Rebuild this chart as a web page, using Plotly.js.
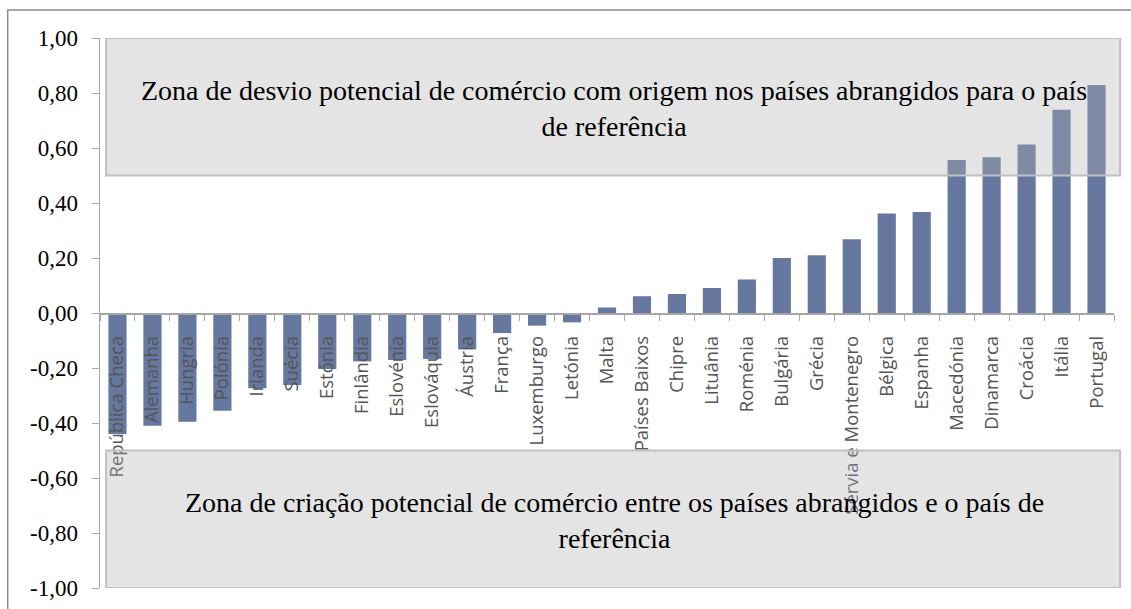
<!DOCTYPE html>
<html>
<head>
<meta charset="utf-8">
<script src="https://cdn.plot.ly/plotly-3.0.1.min.js"></script>
<style>html,body{margin:0;padding:0;background:#fff;}#chart{width:1131px;height:609px;}</style>
</head>
<body>
<div id="chart"></div>
<script>
const countries = ["República Checa","Alemanha","Hungria","Polónia","Irlanda","Suécia","Estónia","Finlândia","Eslovénia","Eslováquia","Áustria","França","Luxemburgo","Letónia","Malta","Países Baixos","Chipre","Lituânia","Roménia","Bulgária","Grécia","Sérvia e Montenegro","Bélgica","Espanha","Macedónia","Dinamarca","Croácia","Itália","Portugal"];
const values = [-0.44,-0.41,-0.395,-0.355,-0.274,-0.262,-0.204,-0.176,-0.171,-0.167,-0.132,-0.073,-0.046,-0.034,0.02,0.061,0.069,0.091,0.122,0.20,0.21,0.268,0.362,0.367,0.556,0.566,0.613,0.739,0.829];
const yTickVals = [-1,-0.8,-0.6,-0.4,-0.2,0,0.2,0.4,0.6,0.8,1];
const yTickText = ["-1,00","-0,80","-0,60","-0,40","-0,20","0,00","0,20","0,40","0,60","0,80","1,00"];
const zoneTop = {text:"Zona de desvio potencial de comércio com origem nos países abrangidos para o país<br>de referência", y0:0.5, y1:1.0};
const zoneBottom = {text:"Zona de criação potencial de comércio entre os países abrangidos e o país de<br>referência", y0:-1.0, y1:-0.5};

const trace = {type:"bar", x:countries, y:values, marker:{color:"#6678a0"}, hoverinfo:"x+y"};

function zoneShape(z){
  return {type:"rect", layer:"above", xref:"paper", yref:"y", x0:0.006, x1:1.006, y0:z.y0, y1:z.y1,
    fillcolor:"rgba(176,176,176,0.34)", line:{color:"#c0c0c0", width:2}};
}
function zoneAnn(z){
  return {xref:"paper", yref:"y", x:0.507, y:(z.y0+z.y1)/2 - 0.005, text:z.text, showarrow:false,
    font:{family:"Liberation Serif", size:28, color:"#000"}, align:"center"};
}

const layout = {
  width:1131, height:609,
  margin:{l:100, r:17, t:38, b:21},
  paper_bgcolor:"#fff", plot_bgcolor:"rgba(0,0,0,0)",
  showlegend:false, bargap:0.48,
  xaxis:{type:"category", anchor:"free", position:0.5, showline:true, linecolor:"#a6a6a6", linewidth:1.5,
    ticks:"outside", tickson:"boundaries", ticklen:6, tickcolor:"#a6a6a6", tickangle:-90, ticklabelstandoff:14,
    tickfont:{family:"Open Sans", size:18.5, color:"#555"}, showgrid:false, zeroline:false, fixedrange:true},
  yaxis:{range:[-1,1], tickvals:yTickVals, ticktext:yTickText, showline:true, linecolor:"#a6a6a6", linewidth:1.5,
    ticks:"outside", ticklen:7, tickcolor:"#a6a6a6", showgrid:false, zeroline:false,
    tickfont:{family:"Liberation Serif", size:23, color:"#000"}, ticklabelstandoff:9},
  shapes:[
    {type:"rect", layer:"below", xref:"paper", yref:"paper", x0:-0.091, x1:1.03, y0:-0.1, y1:1.051,
      fillcolor:"rgba(0,0,0,0)", line:{color:"#8c8c8c", width:1.5}},
    zoneShape(zoneTop), zoneShape(zoneBottom)
  ],
  annotations:[zoneAnn(zoneTop), zoneAnn(zoneBottom)]
};
Plotly.newPlot("chart", [trace], layout, {displayModeBar:false, staticPlot:true});
</script>
</body>
</html>
